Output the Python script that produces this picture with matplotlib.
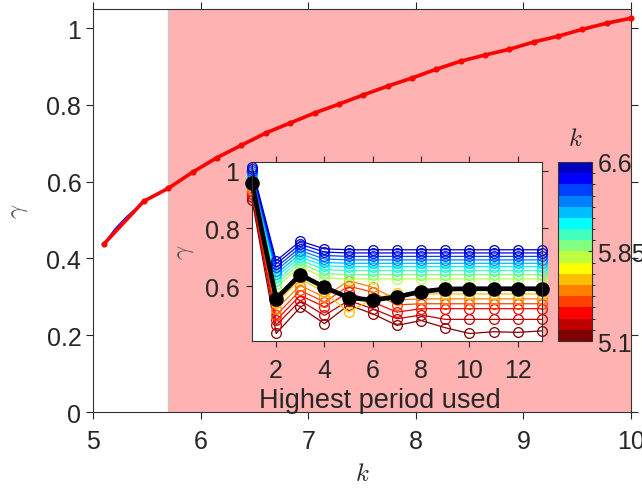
import numpy as np
import matplotlib
matplotlib.use("Agg")
import matplotlib.pyplot as plt
from matplotlib.colors import ListedColormap, BoundaryNorm
from matplotlib.cm import ScalarMappable

plt.rcParams['font.family'] = ['Liberation Sans', 'DejaVu Sans']
plt.rcParams['mathtext.fontset'] = 'cm'

# ---------------- data ----------------
# main curve
k_main = [5.1, 5.47, 5.7, 5.926, 6.153, 6.379, 6.605, 6.832, 7.058, 7.284, 7.511,
          7.737, 7.963, 8.189, 8.416, 8.642, 8.868, 9.095, 9.321, 9.547, 9.774, 10.0]
gamma_main = [0.4375, 0.549, 0.583, 0.625, 0.663, 0.695, 0.727, 0.753, 0.779, 0.802,
              0.826, 0.849, 0.870, 0.893, 0.914, 0.930, 0.945, 0.964, 0.979, 0.997,
              1.013, 1.026]

# fine sweep (thin blue curve)
k_fine = [5.1, 5.2, 5.3, 5.4, 5.5, 5.6, 5.7, 5.8, 5.9, 6.0, 6.1, 6.2, 6.3, 6.4, 6.5, 6.6]
gamma_fine = [0.4375, 0.476, 0.506, 0.531, 0.553, 0.569, 0.583, 0.602, 0.620, 0.637,
              0.654, 0.669, 0.683, 0.697, 0.712, 0.726]

# inset: gamma vs highest period used, one series per k (5.1 ... 6.6)
period = [1, 2, 3, 4, 5, 6, 7, 8, 9, 10, 11, 12, 13]
g_51 = [0.900, 0.436, 0.527, 0.470, 0.535, 0.504, 0.464, 0.481, 0.456, 0.436, 0.442, 0.440, 0.445]
g_52 = [0.910, 0.465, 0.550, 0.499, 0.550, 0.522, 0.487, 0.500, 0.485, 0.485, 0.485, 0.485, 0.485]
g_53 = [0.920, 0.482, 0.568, 0.528, 0.578, 0.545, 0.510, 0.522, 0.522, 0.522, 0.522, 0.522, 0.522]
g_54 = [0.929, 0.500, 0.585, 0.545, 0.600, 0.579, 0.535, 0.539, 0.539, 0.539, 0.539, 0.539, 0.539]
g_55 = [0.938, 0.520, 0.602, 0.562, 0.619, 0.596, 0.552, 0.556, 0.556, 0.556, 0.556, 0.556, 0.556]
g_56 = [0.947, 0.540, 0.625, 0.579, 0.510, 0.556, 0.575, 0.573, 0.573, 0.573, 0.573, 0.573, 0.573]
g_57 = [0.956, 0.556, 0.640, 0.596, 0.560, 0.552, 0.563, 0.581, 0.590, 0.591, 0.591, 0.591, 0.591]
g_58 = [0.960, 0.596, 0.668, 0.628, 0.625, 0.625, 0.625, 0.625, 0.625, 0.625, 0.625, 0.625, 0.625]
g_59 = [0.965, 0.608, 0.679, 0.643, 0.640, 0.640, 0.640, 0.640, 0.640, 0.640, 0.640, 0.640, 0.640]
g_60 = [0.971, 0.619, 0.690, 0.657, 0.654, 0.654, 0.654, 0.654, 0.654, 0.654, 0.654, 0.654, 0.654]
g_61 = [0.978, 0.631, 0.701, 0.670, 0.668, 0.668, 0.668, 0.668, 0.668, 0.668, 0.668, 0.668, 0.668]
g_62 = [0.985, 0.642, 0.712, 0.682, 0.679, 0.679, 0.679, 0.679, 0.679, 0.679, 0.679, 0.679, 0.679]
g_63 = [0.992, 0.654, 0.723, 0.694, 0.691, 0.691, 0.691, 0.691, 0.691, 0.691, 0.691, 0.691, 0.691]
g_64 = [0.999, 0.665, 0.734, 0.706, 0.703, 0.703, 0.703, 0.703, 0.703, 0.703, 0.703, 0.703, 0.703]
g_65 = [1.006, 0.677, 0.745, 0.718, 0.715, 0.715, 0.715, 0.715, 0.715, 0.715, 0.715, 0.715, 0.715]
g_66 = [1.013, 0.688, 0.756, 0.729, 0.726, 0.726, 0.726, 0.726, 0.726, 0.726, 0.726, 0.726, 0.726]
inset_series = [g_51, g_52, g_53, g_54, g_55, g_56, g_57, g_58,
                g_59, g_60, g_61, g_62, g_63, g_64, g_65, g_66]
g_black = g_57   # highlighted k = 5.7

cbar_ticks = [5.1, 5.85, 6.6]
main_xticks = [5, 6, 7, 8, 9, 10]
main_yticks = [0, 0.2, 0.4, 0.6, 0.8, 1]
inset_xticks = [2, 4, 6, 8, 10, 12]
inset_yticks = [0.6, 0.8, 1]

# jet(16), flipped so that 5.1 is dark red and 6.6 dark blue
jet16 = [[0, 0, 0.75], [0, 0, 1], [0, 0.25, 1], [0, 0.5, 1], [0, 0.75, 1], [0, 1, 1],
         [0.25, 1, 0.75], [0.5, 1, 0.5], [0.75, 1, 0.25], [1, 1, 0], [1, 0.75, 0],
         [1, 0.5, 0], [1, 0.25, 0], [1, 0, 0], [0.75, 0, 0], [0.5, 0, 0]]
colors = jet16[::-1]

# ---------------- figure ----------------
TXT = '#262626'
FS = 18
fig = plt.figure(figsize=(6.42, 4.89), dpi=100)

ax = fig.add_axes([0.145, 0.1554, 0.838, 0.8242])
ax.axvspan(5.7, 10, facecolor='#ffb2b2', edgecolor='none', zorder=0)
ax.axvline(5.7, color='#c8c8c8', lw=1.0, zorder=0.5)
ax.plot(k_fine, gamma_fine, color='blue', lw=0.9, zorder=2)
ax.plot(k_main, gamma_main, color='red', lw=2.6, marker='o', ms=3.4, zorder=3,
        clip_on=False)
ax.set_xlim(5, 10)
ax.set_ylim(0, 1.05)
ax.set_xticks(main_xticks)
ax.set_yticks(main_yticks)
ax.set_yticklabels(['0', '0.2', '0.4', '0.6', '0.8', '1'])
ax.tick_params(direction='out', length=5, width=0.8, colors=TXT, labelsize=FS,
               top=True, right=True, labelcolor=TXT)
ax.tick_params(axis='x', pad=7)
for s in ax.spines.values():
    s.set_color('#333333')
    s.set_linewidth(0.8)
ax.set_xlabel(r'$k$', fontsize=FS, color=TXT, labelpad=6)
ax.set_ylabel(r'$\gamma$', fontsize=FS, color='#555555', labelpad=12)

# inset
axin = fig.add_axes([0.3925, 0.3006, 0.4517, 0.3661])
axin.set_facecolor('white')
for g, c in zip(inset_series, colors):
    axin.plot(period, g, color=c, lw=0.9, marker='o', ms=7, markerfacecolor='none',
              markeredgecolor=c, markeredgewidth=0.9, zorder=3, clip_on=False)
axin.plot(period, g_black, color='black', lw=3.4, marker='o', ms=9.5,
          markerfacecolor='black', markeredgecolor='black', zorder=4, clip_on=False)
axin.set_xlim(1, 13)
axin.set_ylim(0.41, 1.03)
axin.set_xticks(inset_xticks)
axin.set_yticks(inset_yticks)
axin.set_yticklabels(['0.6', '0.8', '1'])
axin.tick_params(direction='out', length=4, width=0.8, colors=TXT, labelsize=FS,
                 top=True, right=True, labelcolor=TXT, pad=5)
axin.tick_params(axis='x', pad=8)
for s in axin.spines.values():
    s.set_color('#333333')
    s.set_linewidth(0.8)
    s.set_zorder(5)
axin.set_xlabel('Highest period used', fontsize=19.5, color=TXT)
axin.xaxis.set_label_coords(0.44, -0.255, transform=axin.transAxes)
axin.xaxis.label.set_verticalalignment('top')
axin.set_ylabel(r'$\gamma$', fontsize=FS, color='#555555', labelpad=6)

# colorbar
cax = fig.add_axes([0.869, 0.3006, 0.0530, 0.3661])
bounds = np.linspace(5.1, 6.6, 17)
sm = ScalarMappable(norm=BoundaryNorm(bounds, 16), cmap=ListedColormap(colors))
cb = fig.colorbar(sm, cax=cax, ticks=cbar_ticks)
cb.ax.set_yticklabels(['5.1', '5.85', '6.6'])
cb.ax.tick_params(direction='in', length=3, width=0.8, colors=TXT, labelsize=FS,
                  labelcolor=TXT, pad=4)
cb.outline.set_edgecolor('#333333')
cb.outline.set_linewidth(0.8)
cax.set_title(r'$k$', fontsize=FS, color=TXT, pad=12)

fig.savefig('out.png', dpi=100)
